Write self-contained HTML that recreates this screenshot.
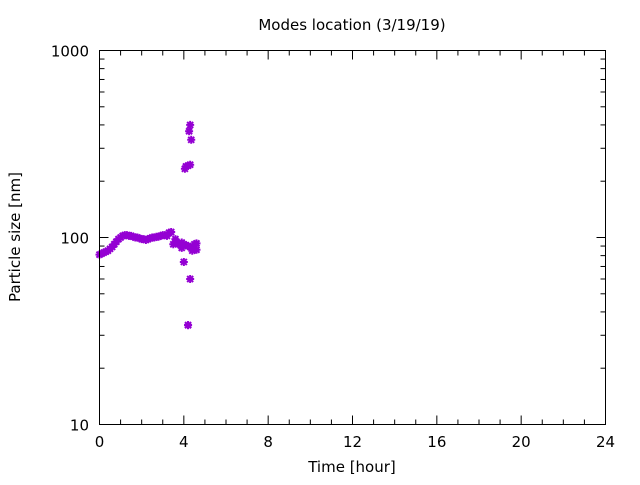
<!DOCTYPE html>
<html><head><meta charset="utf-8"><style>
html,body{margin:0;padding:0;background:#fff;}
svg text{font-family:"DejaVu Sans","Liberation Sans",sans-serif;font-size:15px;fill:#000;}
</style></head><body>
<svg id="chart" width="640" height="480" xmlns="http://www.w3.org/2000/svg">
<rect width="640" height="480" fill="#fff"/>
<text x="352" y="30" text-anchor="middle">Modes location (3/19/19)</text>
<text x="352" y="472" text-anchor="middle">Time [hour]</text>
<text transform="translate(20,237) rotate(-90)" text-anchor="middle">Particle size [nm]</text>
<g id="axes"></g>
<g id="points"></g>
<rect x="99.5" y="50.5" width="506" height="374" fill="none" stroke="#000" stroke-width="1"/>
</svg>
<script>
const xTicks = [0,4,8,12,16,20,24];
const yTicks = [10,100,1000];
const times = [0,0.1,0.2,0.3,0.4,0.5,0.6,0.7,0.8,0.9,1.0,1.1,1.2,1.3,1.4,1.5,1.6,1.7,1.8,1.9,2.0,2.1,2.2,2.3,2.4,2.5,2.6,2.7,2.8,2.9,3.0,3.1,3.2,3.3,3.4,3.5,3.6,3.7,3.8,3.9,4.0,4.1,4.2,4.3,4.4,4.5,4.6,4.6,4.5,4.4,3.6,3.9,4.0,4.2,4.3,4.2,4.05,4.1,4.2,4.3,4.25,4.3,4.35];
const sizes = [81,82,83,84,85,87,89,92,95,98,100,102,103,103,102,102,101,100,100,99,98,98,97,98,99,100,100,101,101,102,103,103,102,106,107,92,98,93,92,94,92,91,90,89,88,92,93,86,87,85,94,88,74,34,60,34,233,240,242,245,370,400,333];
const X0=99.5,X1=605.5,Y0=424.5,Y1=50.5;
function xs(t){return X0+(t-0)/(24-0)*(X1-X0);}
function ys(v){return Y0-(Math.log10(v)-1)/2*(Y0-Y1);}
const NS="http://www.w3.org/2000/svg";
const ax=document.getElementById('axes');
function line(x1,y1,x2,y2,name){const l=document.createElementNS(NS,'line');l.setAttribute('x1',x1);l.setAttribute('y1',y1);l.setAttribute('x2',x2);l.setAttribute('y2',y2);l.setAttribute('stroke','#000');l.setAttribute('stroke-width','1');


ax.appendChild(l);}
for(let h=0;h<=24;h++){const x=xs(h);const L=(h%4===0)?9:5;line(x,Y0,x,Y0-L,'x-tick');line(x,Y1,x,Y1+L,'x-tick-top');}
xTicks.forEach(t=>{const tx=document.createElementNS(NS,'text');tx.setAttribute('x',xs(t));tx.setAttribute('y',447);tx.setAttribute('text-anchor','middle');tx.textContent=t;


ax.appendChild(tx);});
for(let e=1;e<3;e++){for(let m=1;m<=10;m++){const v=Math.pow(10,e)*m;const y=ys(v);const L=(m===1||m===10)?9:5;line(X0,y,X0+L,y,'y-tick');line(X1,y,X1-L,y,'y-tick-right');}}
yTicks.forEach(v=>{const tx=document.createElementNS(NS,'text');tx.setAttribute('x',89);tx.setAttribute('y',ys(v)+6);tx.setAttribute('text-anchor','end');tx.textContent=v;


ax.appendChild(tx);});
const pg=document.getElementById('points');
for(let i=0;i<times.length;i++){const x=xs(times[i]),y=ys(sizes[i]);const p=document.createElementNS(NS,'path');
p.setAttribute('d',`M${x-4},${y}H${x+4}M${x},${y-4}V${y+4}M${x-3},${y-3}L${x+3},${y+3}M${x-3},${y+3}L${x+3},${y-3}`);
p.setAttribute('stroke','#9400d3');p.setAttribute('stroke-width','2');


pg.appendChild(p);}
</script>
</body></html>
